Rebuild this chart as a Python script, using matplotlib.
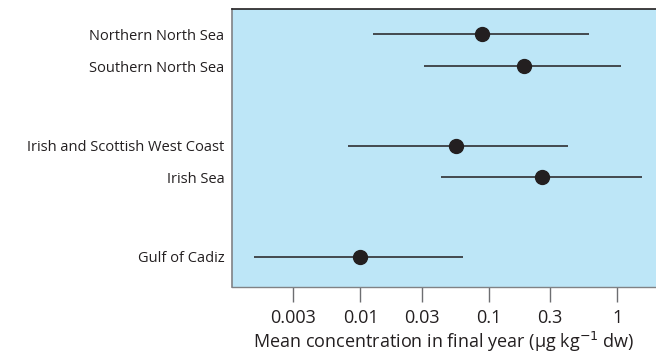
import matplotlib
matplotlib.use("Agg")
import matplotlib.pyplot as plt

plt.rcParams['font.family'] = ['Open Sans', 'DejaVu Sans']

regions = ['Northern North Sea', 'Southern North Sea',
           'Irish and Scottish West Coast', 'Irish Sea', 'Gulf of Cadiz']
ypos = [1, 2, 4.5, 5.5, 8]
mean = [0.089, 0.187, 0.055, 0.258, 0.00995]
low = [0.0126, 0.031, 0.0080, 0.0426, 0.00147]
high = [0.60, 1.06, 0.416, 1.56, 0.0628]

ticks = [0.003, 0.01, 0.03, 0.1, 0.3, 1]
tick_labels = ['0.003', '0.01', '0.03', '0.1', '0.3', '1']

fig = plt.figure(figsize=(6.56, 3.57), dpi=100)
ax = fig.add_axes([0.3537, 0.1952, 0.6463, 0.7788])
ax.set_facecolor('#bde6f7')

xerr = [[m - l for m, l in zip(mean, low)], [h - m for m, h in zip(mean, high)]]
ax.errorbar(mean, ypos, xerr=xerr, fmt='o', color='#231f20', ms=10,
            elinewidth=1.1, capsize=0, zorder=3)

ax.set_xscale('log')
ax.set_xlim(0.001, 2.0)
ax.set_ylim(8.96, 0.21)
ax.set_xticks(ticks)
ax.set_xticklabels(tick_labels)
ax.xaxis.set_minor_locator(matplotlib.ticker.NullLocator())
ax.tick_params(axis='x', length=10.5, width=1, color='#6d6e71', labelsize=13,
               pad=5, labelcolor='#231f20')
ax.set_yticks(ypos)
ax.set_yticklabels(regions)
ax.tick_params(axis='y', length=0, pad=5.5, labelsize=10.5, labelcolor='#231f20')

ax.spines['right'].set_visible(False)
ax.spines['top'].set_color('#231f20')
ax.spines['top'].set_linewidth(1.2)
ax.spines['left'].set_color('#808285')
ax.spines['left'].set_linewidth(1.2)
ax.spines['bottom'].set_color('#808285')
ax.spines['bottom'].set_linewidth(1)

ax.set_xlabel('Mean concentration in final year (µg kg$^{-1}$ dw)', fontsize=13,
              color='#231f20', labelpad=2)

fig.savefig('out.png', dpi=100)
